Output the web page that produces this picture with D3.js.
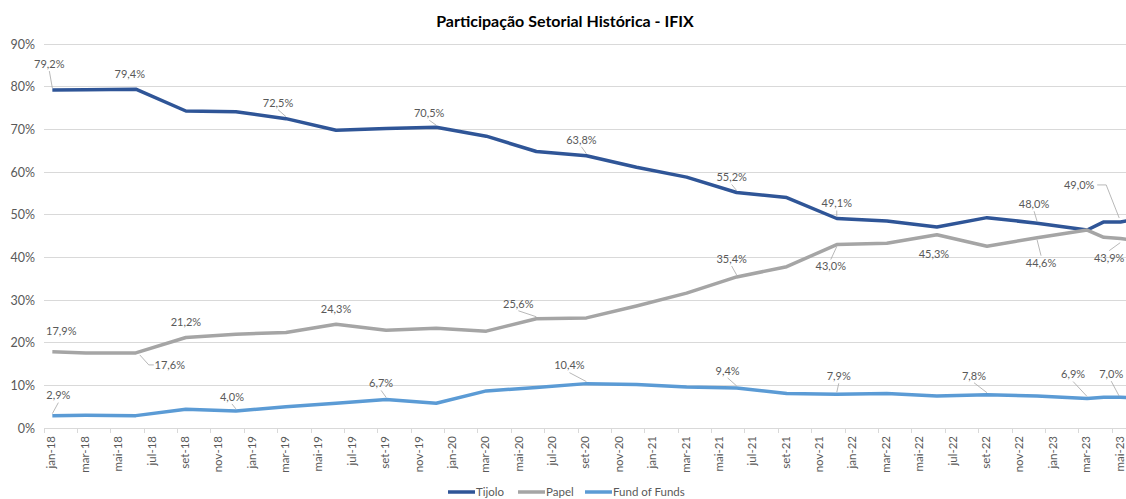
<!DOCTYPE html>
<html><head><meta charset="utf-8">
<script src="https://cdn.jsdelivr.net/npm/d3@7"></script>
<style>
html,body{margin:0;padding:0;background:#fff;}
svg{display:block;font-family:Lato,"Open Sans",sans-serif;}
</style></head>
<body><svg id="c" width="1126" height="499"></svg>
<script>
// ---- data ----
const monthNames = ["jan","fev","mar","abr","mai","jun","jul","ago","set","out","nov","dez"];
const years = ["18","19","20","21","22","23"];
const months = [];
years.forEach(yy => monthNames.forEach(mn => months.push(mn + "-" + yy)));
months.splice(months.indexOf("jun-23") + 1); // jan-18 .. jun-23

const pointMonths = ["jan-18","mar-18","jun-18","set-18","dez-18","mar-19","jun-19","set-19","dez-19",
  "mar-20","jun-20","set-20","dez-20","mar-21","jun-21","set-21","dez-21","mar-22","jun-22",
  "set-22","dez-22","mar-23","abr-23","mai-23","jun-23"];
const tijolo = [79.2,79.3,79.4,74.3,74.1,72.5,69.8,70.2,70.5,68.4,64.8,63.8,61.1,58.8,55.2,54.0,49.1,48.5,47.1,49.3,48.0,46.4,48.3,48.3,49.0];
const papel  = [17.9,17.6,17.6,21.2,22.0,22.4,24.3,22.9,23.4,22.7,25.6,25.8,28.6,31.6,35.4,37.8,43.0,43.3,45.3,42.6,44.6,46.4,44.7,44.4,43.9];
const fof    = [2.9,3.0,2.9,4.4,4.0,5.0,5.8,6.7,5.8,8.7,9.5,10.4,10.2,9.6,9.4,8.1,7.9,8.1,7.5,7.8,7.5,6.9,7.2,7.2,7.0];
const seriesNames = ["Tijolo","Papel","Fund of Funds"];
const yTicks = [0,10,20,30,40,50,60,70,80,90];
const title = "Participação Setorial Histórica - IFIX";

// labelled points (which month of which series carries a data label)
const labelled = [
  ["Tijolo","jan-18"],["Tijolo","jun-18"],["Tijolo","mar-19"],["Tijolo","dez-19"],["Tijolo","set-20"],
  ["Tijolo","jun-21"],["Tijolo","dez-21"],["Tijolo","dez-22"],["Tijolo","jun-23"],
  ["Papel","jan-18"],["Papel","jun-18"],["Papel","set-18"],["Papel","jun-19"],["Papel","jun-20"],
  ["Papel","jun-21"],["Papel","dez-21"],["Papel","jun-22"],["Papel","dez-22"],["Papel","jun-23"],
  ["Fund of Funds","jan-18"],["Fund of Funds","dez-18"],["Fund of Funds","set-19"],["Fund of Funds","set-20"],
  ["Fund of Funds","jun-21"],["Fund of Funds","dez-21"],["Fund of Funds","set-22"],["Fund of Funds","mar-23"],
  ["Fund of Funds","jun-23"]
];

// ---- presentation ----
const colors = {"Tijolo":"#2F5597","Papel":"#A5A5A5","Fund of Funds":"#5B9BD5"};
// label placement: [dx, dy, leader type, leader target x-offset]
const labelPlace = [
  [-3,-26,"v",0],[-6,-15,"",0],[-8,-16,"v",0],[-7,-14,"v",0],[-5,-16,"v",0],
  [-5,-15,"v",0],[0,-15,"v",0],[-3,-19,"v",0],[-58,-34,"r",-18],
  [9,-20,"",0],[34,12,"l",0],[0,-15,"",0],[0,-15,"",0],[-18,-15,"v",0],
  [-5,-18,"v",0],[-6,22,"v",0],[-3,19,"",0],[4,25,"v",0],[-28,17,"v",-17],
  [6,-20,"v",0],[-4,-14,"v",0],[-5,-16,"v",0],[-17,-18,"v",0],
  [-9,-17,"v",0],[2,-18,"v",0],[-13,-19,"v",0],[-14,-24,"v",0],
  [-26,-24,"v",-18]
];

const svg = d3.select("#c");
svg.append("rect").attr("width",1126).attr("height",499).attr("fill","#fff");

const step = 16.69, left = 44;
const x = d3.scaleBand().domain(months).range([left, left + months.length*step]).padding(0);
const cx = m => x(m) + x.bandwidth()/2;
const y = d3.scaleLinear().domain([0,90]).range([428,44]);

// gridlines
svg.append("g").selectAll("line").data(yTicks).join("line")
  .attr("x1",left).attr("x2",1126).attr("y1",d=>y(d)).attr("y2",d=>y(d))
  .attr("stroke","#D9D9D9").attr("stroke-width",1).attr("shape-rendering","crispEdges");

// y axis labels
const yAxis = d3.axisLeft(y).tickValues(yTicks).tickFormat(d=>d+"%").tickSize(0).tickPadding(0);
const gy = svg.append("g").attr("transform","translate(35,0)").call(yAxis);
gy.select(".domain").remove();
gy.selectAll("text").attr("fill","#595959").style("font-size","12.5px").style("font-family","Lato, sans-serif");

// x axis: ticks every 2 months at category boundaries, labels rotated
const shown = months.filter((m,i)=>i%2===0);
svg.append("g").selectAll("line").data(shown).join("line")
  .attr("x1",d=>x(d)).attr("x2",d=>x(d)).attr("y1",428).attr("y2",433)
  .attr("stroke","#D9D9D9").attr("shape-rendering","crispEdges");
svg.append("g").selectAll("text").data(shown.filter(m=>cx(m)<1126)).join("text")
  .attr("transform",d=>`translate(${cx(d)-1},436) rotate(-90)`)
  .attr("text-anchor","end").attr("dy","0.35em")
  .attr("fill","#595959").style("font-size","11.5px").text(d=>d);

// lines
const seriesData = {"Tijolo":tijolo,"Papel":papel,"Fund of Funds":fof};
const line = d3.line().x(d=>cx(d.m)).y(d=>y(d.v));
seriesNames.forEach(s=>{
  const pts = pointMonths.map((m,i)=>({m, v: seriesData[s][i]}));
  svg.append("path").datum(pts).attr("d",line).attr("fill","none")
    .attr("stroke",colors[s]).attr("stroke-width",3.5)
    .attr("stroke-linejoin","round").attr("stroke-linecap","butt");
});

// data labels
const fmt = v => v.toFixed(1).replace(".",",") + "%";
const gl = svg.append("g");
labelled.forEach(([s,m],k)=>{
  const [dx,dy,lead,tx] = labelPlace[k];
  const v = seriesData[s][pointMonths.indexOf(m)];
  const px = cx(m), py = y(v);
  const lx = px+dx, ly = py+dy;
  gl.append("text").attr("x",lx).attr("y",ly).attr("dy","0.35em")
    .attr("text-anchor","middle").attr("fill","#595959").style("font-size","11px").text(fmt(v));
  const tX = px+tx, tY = py;
  if (lead==="v") {
    const sy = dy<0 ? ly+7 : ly-7;
    gl.append("line").attr("x1",lx).attr("y1",sy).attr("x2",tX).attr("y2",tY + (dy<0?-2:2))
      .attr("stroke","#A6A6A6").attr("stroke-width",0.8);
  } else if (lead==="l") {
    gl.append("polyline").attr("points",`${lx-16},${ly} ${lx-21},${ly} ${tX+4},${tY+2}`)
      .attr("fill","none").attr("stroke","#A6A6A6").attr("stroke-width",0.8);
  } else if (lead==="r") {
    gl.append("polyline").attr("points",`${lx+18},${ly} ${lx+27},${ly} ${tX},${tY-1}`)
      .attr("fill","none").attr("stroke","#A6A6A6").attr("stroke-width",0.8);
  }
});

// title
svg.append("text").attr("x",565).attr("y",27).attr("text-anchor","middle")
  .style("font-size","16px").style("font-weight","bold").attr("fill","#000").text(title);

// legend
const legX = [448, 518, 585];
const lg = svg.append("g");
seriesNames.forEach((s,i)=>{
  lg.append("line").attr("x1",legX[i]).attr("x2",legX[i]+27).attr("y1",492).attr("y2",492)
    .attr("stroke",colors[s]).attr("stroke-width",3.5);
  lg.append("text").attr("x",legX[i]+28).attr("y",492).attr("dy","0.35em")
    .attr("fill","#595959").style("font-size","11.5px").text(s);
});
</script></body></html>
